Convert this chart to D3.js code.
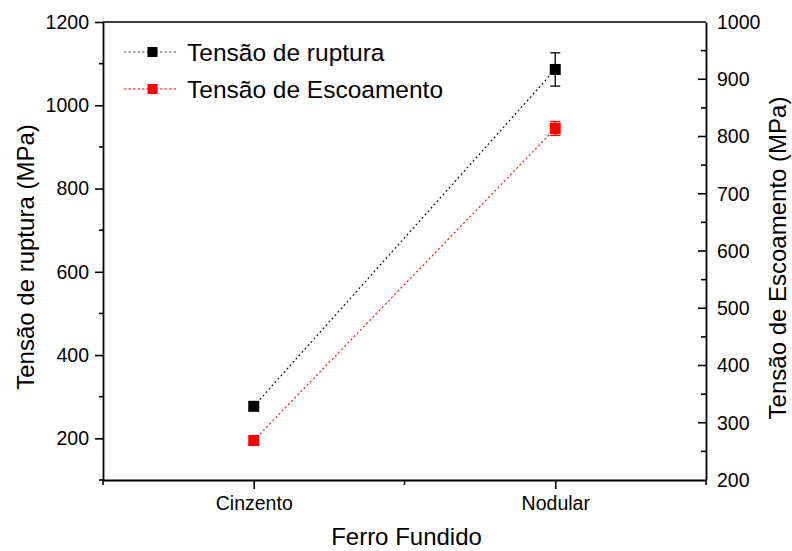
<!DOCTYPE html>
<html>
<head>
<meta charset="utf-8">
<script src="https://cdn.jsdelivr.net/npm/d3@7"></script>
<style>
  body { margin: 0; background: #fff; }
  svg { display: block; font-family: "Liberation Sans", Arial, sans-serif; }
</style>
</head>
<body>
<svg id="chart" width="792" height="551"></svg>
<script>
const categories = ["Cinzento", "Nodular"];
const ruptura = [277, 1086];
const rupturaErr = [8, 40];
const escoamento = [269, 814];
const escoamentoErr = [4, 12];
const leftTicks = [200, 400, 600, 800, 1000, 1200];
const rightTicks = [200, 300, 400, 500, 600, 700, 800, 900, 1000];
const seriesNames = ["Tensão de ruptura", "Tensão de Escoamento"];

const svg = d3.select("#chart");
const m = { left: 103, right: 706, top: 22, bottom: 480 };

const x = d3.scalePoint().domain(categories).range([m.left, m.right]).padding(0.5);
const yL = d3.scaleLinear().domain([100, 1200]).range([m.bottom, m.top]);
const yR = d3.scaleLinear().domain([200, 1000]).range([m.bottom, m.top]);

const tickFont = "19.5px";
const fmt = d3.format("d");

// Top frame line
svg.append("line").attr("x1", m.left).attr("x2", m.right).attr("y1", m.top).attr("y2", m.top)
  .attr("stroke", "#000").attr("stroke-width", 1.6);

// Left axis
const gL = svg.append("g").attr("transform", `translate(${m.left},0)`);
gL.call(d3.axisLeft(yL).tickValues(leftTicks).tickFormat(fmt).tickSize(8).tickSizeOuter(0).tickPadding(6));
gL.selectAll(".tick text").style("font-size", tickFont).style("font-family", "Liberation Sans, Arial, sans-serif");
gL.selectAll("line").attr("stroke-width", 1.6);
gL.select(".domain").attr("stroke-width", 1.8);
const minorL = d3.range(100, 1200, 200);
gL.selectAll(".minor").data(minorL).enter().append("line")
  .attr("x1", -4).attr("x2", 0).attr("y1", d => yL(d)).attr("y2", d => yL(d))
  .attr("stroke", "#000").attr("stroke-width", 1.6);

// Right axis (ticks inward)
const gR = svg.append("g").attr("transform", `translate(${m.right},0)`);
gR.call(d3.axisRight(yR).tickValues(rightTicks).tickFormat(fmt).tickSize(0).tickSizeOuter(0).tickPadding(11));
gR.selectAll(".tick text").style("font-size", tickFont).style("font-family", "Liberation Sans, Arial, sans-serif");
gR.select(".domain").attr("stroke-width", 1.8);
gR.selectAll(".majorR").data(rightTicks.slice(1, -1)).enter().append("line")
  .attr("x1", -8).attr("x2", 0).attr("y1", d => yR(d)).attr("y2", d => yR(d))
  .attr("stroke", "#000").attr("stroke-width", 1.6);
gR.selectAll(".minorR").data(d3.range(250, 1000, 100)).enter().append("line")
  .attr("x1", -5).attr("x2", 0).attr("y1", d => yR(d)).attr("y2", d => yR(d))
  .attr("stroke", "#000").attr("stroke-width", 1.6);

// Bottom axis
const gB = svg.append("g").attr("transform", `translate(0,${m.bottom})`);
gB.call(d3.axisBottom(x).tickSize(9).tickSizeOuter(0).tickPadding(7));
gB.selectAll(".tick text").style("font-size", tickFont).style("font-family", "Liberation Sans, Arial, sans-serif");
gB.selectAll("line").attr("stroke-width", 1.6);
gB.select(".domain").attr("stroke-width", 1.8);
const minorX = [m.left, (x(categories[0]) + x(categories[1])) / 2, m.right];
gB.selectAll(".minorB").data(minorX).enter().append("line")
  .attr("x1", d => d).attr("x2", d => d).attr("y1", 0).attr("y2", 5)
  .attr("stroke", "#000").attr("stroke-width", 1.6);

// Axis titles
svg.append("text").attr("x", (m.left + m.right) / 2 + 2).attr("y", 545).attr("text-anchor", "middle")
  .style("font-size", "24px").text("Ferro Fundido");
svg.append("text").attr("transform", `translate(34,${(m.top + m.bottom) / 2 + 6}) rotate(-90)`)
  .attr("text-anchor", "middle").style("font-size", "24px").text("Tensão de ruptura (MPa)");
svg.append("text").attr("transform", `translate(786,${(m.top + m.bottom) / 2 + 7}) rotate(-90)`)
  .attr("text-anchor", "middle").style("font-size", "24px").text("Tensão de Escoamento (MPa)");

// Series
function drawSeries(vals, errs, yScale, color, errColor, dash) {
  const line = d3.line().x((d, i) => x(categories[i])).y(d => yScale(d));
  svg.append("path").datum(vals).attr("d", line).attr("fill", "none")
    .attr("stroke", color).attr("stroke-width", 1.1).attr("stroke-dasharray", dash);
  const g = svg.append("g");
  vals.forEach((v, i) => {
    const cx = x(categories[i]);
    const y1 = yScale(v + errs[i]), y2 = yScale(v - errs[i]);
    g.append("line").attr("x1", cx).attr("x2", cx).attr("y1", y1).attr("y2", y2)
      .attr("stroke", errColor).attr("stroke-width", 1.5);
    [y1, y2].forEach(yy => g.append("line").attr("x1", cx - 5).attr("x2", cx + 5)
      .attr("y1", yy).attr("y2", yy).attr("stroke", errColor).attr("stroke-width", 1.5));
    g.append("rect").attr("x", cx - 5.5).attr("y", yScale(v) - 5.5).attr("width", 11).attr("height", 11)
      .attr("fill", color);
  });
}
drawSeries(ruptura, rupturaErr, yL, "#000", "#222", "2,2.5");
drawSeries(escoamento, escoamentoErr, yR, "#ff0000", "#ff0000", "2,2.5");

// Legend
const legColors = ["#000", "#ff0000"];
const legY = [52, 89];
seriesNames.forEach((name, i) => {
  svg.append("line").attr("x1", 124).attr("x2", 178).attr("y1", legY[i]).attr("y2", legY[i])
    .attr("stroke", i === 0 ? "#555" : "#ff0000").attr("stroke-width", 1.1).attr("stroke-dasharray", "2.5,2");
  svg.append("rect").attr("x", 147.5).attr("y", legY[i] - 5).attr("width", 10).attr("height", 10)
    .attr("fill", legColors[i]);
  svg.append("text").attr("x", 187).attr("y", legY[i] + 9).style("font-size", "24.5px").text(name);
});
</script>
</body>
</html>
